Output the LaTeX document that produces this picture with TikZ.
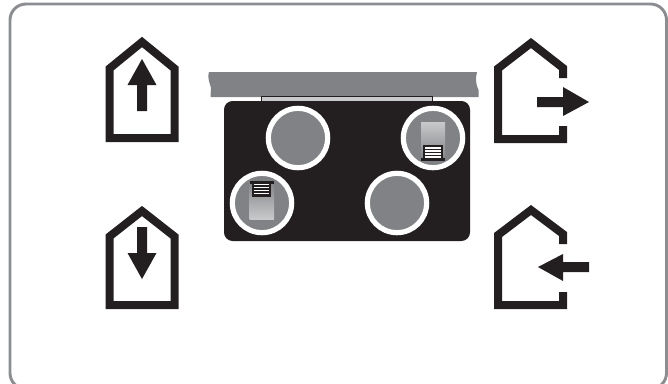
\documentclass[tikz,border=0pt]{standalone}
\usepackage{tikz}
\usetikzlibrary{calc, positioning, shapes.geometric}
\usepackage{xcolor}
\definecolor{unitDark}{RGB}{35, 31, 32}
\definecolor{ductGray}{RGB}{128, 130, 133}
\definecolor{frameGray}{RGB}{140, 141, 144}
\definecolor{stripGray}{RGB}{200, 201, 203}
\tikzset{
  houseline/.style={draw=unitDark, line width=6pt, miter limit=10},
  airarrow/.style={fill=unitDark, draw=none},
  port/.style={circle, draw=white, fill=ductGray, line width=3.9pt, minimum size=44.5pt, inner sep=0pt},
  slat/.style={draw=white, line width=1pt}
}
\begin{document}
\begin{tikzpicture}[x=0.75pt, y=-0.75pt]
  \useasboundingbox (0,0) rectangle (668,383);
  % outer frame, its bottom edge runs off the page
  \begin{scope}
    \clip (0,0) rectangle (668,383);
    \draw[frameGray, line width=2.2pt, rounded corners=12pt] (10,4) rectangle (666.5,389);
  \end{scope}

  % left houses
  \draw[houseline] (109.5,138) -- (109.5,68.5) -- (142,42) -- (174.5,68.5) -- (174.5,138) -- cycle;
  \draw[airarrow] (142,59) -- (156.5,85) -- (147,85) -- (147,111) -- (137,111) -- (137,85) -- (127.5,85) -- cycle;
  \draw[houseline] (109.5,305) -- (109.5,236.5) -- (142,211) -- (174.5,236.5) -- (174.5,305) -- cycle;
  \draw[airarrow] (142,279) -- (156.5,253) -- (147,253) -- (147,227) -- (137,227) -- (137,253) -- (127.5,253) -- cycle;

  % right houses, open at the arrow
  \draw[houseline] (563,78) -- (563,68) -- (531,43) -- (498,68.5) -- (498,139) -- (563,139) -- (563,126);
  \draw[airarrow] (589,102) -- (563,87) -- (563,97) -- (537,97) -- (537,107) -- (563,107) -- (563,116) -- cycle;
  \draw[houseline] (563,244) -- (563,234) -- (531,210) -- (498,235) -- (498,305) -- (563,305) -- (563,292);
  \draw[airarrow] (538,267) -- (563,254) -- (563,262) -- (589,262) -- (589,272) -- (563,272) -- (563,281) -- cycle;

  % duct above the unit
  \fill[ductGray] (209,72) -- (477,72) .. controls (475.5,78) and (475.5,84) .. (478.5,90) -- (478.5,97)
    -- (210.5,97) -- (211,88) .. controls (210,83) and (207,79) .. (209,72) -- cycle;
  \draw[unitDark, fill=stripGray, line width=0.8pt] (261.5,101) -- (261.5,96.5) -- (432.5,96.5) -- (432.5,101);

  % unit body and ports
  \fill[unitDark, rounded corners=6.5pt] (224,101) rectangle (470,241);
  \node[port] (supply) at (298,138) {};
  \node[port] (extract) at (433,138) {};
  \node[port] (exhaust) at (262,203) {};
  \node[port] (intake) at (397,203) {};

  % fan in the top right port
  \shade[top color=stripGray, bottom color=ductGray] (421,122) rectangle (445,160);
  \fill[unitDark] (423,145) rectangle (443,158);
  \fill[unitDark] (421,158) rectangle (445,161);
  \foreach \sy in {148,151,154,157}
    \draw[slat] (425,\sy) -- (441,\sy);

  % fan in the bottom left port
  \shade[top color=ductGray, bottom color=stripGray] (249.5,181) rectangle (274,219);
  \fill[unitDark] (252,183) rectangle (271,197);
  \fill[unitDark] (249.5,181) rectangle (274,183.5);
  \foreach \sy in {184.5,187.5,190.5,193.5}
    \draw[slat] (254,\sy) -- (269,\sy);
\end{tikzpicture}
\end{document}
